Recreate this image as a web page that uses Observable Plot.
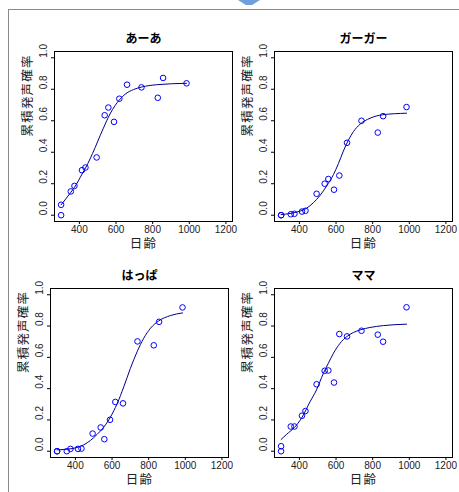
<!DOCTYPE html>
<html><head><meta charset="utf-8">
<script src="https://cdn.jsdelivr.net/npm/d3@7"></script>
<script src="https://cdn.jsdelivr.net/npm/@observablehq/plot@0.6"></script>
<style>
body{margin:0;background:#fff;}
#page{position:relative;width:459px;height:492px;overflow:hidden;background:#fff;}
.panel{position:absolute;}
#topline{position:absolute;left:8px;top:9px;width:451px;height:1px;background:#8a8a8a;}
#leftline{position:absolute;left:8px;top:9px;width:1px;height:483px;background:#8a8a8a;}
#chev{position:absolute;left:238px;top:0;width:22px;height:5px;background:#6f9fdc;clip-path:polygon(0 0,100% 0,64% 100%,36% 100%);}
</style></head><body>
<div id="page"><div id="topline"></div><div id="leftline"></div><div id="chev"></div></div>
<script>
// shared x values (日齢)
const ages = [300, 300, 353, 373, 414, 433, 494, 538, 558, 589, 618, 660, 739, 828, 857, 985];
// observed rates per panel
const aaRate    = [0.000, 0.066, 0.151, 0.186, 0.286, 0.303, 0.367, 0.635, 0.684, 0.593, 0.740, 0.829, 0.812, 0.746, 0.872, 0.838];
const gagaRate  = [0.000, 0.000, 0.006, 0.009, 0.023, 0.028, 0.136, 0.200, 0.230, 0.162, 0.252, 0.460, 0.600, 0.525, 0.629, 0.687];
const happaRate = [0.000, 0.000, 0.000, 0.015, 0.015, 0.017, 0.113, 0.152, 0.077, 0.201, 0.315, 0.306, 0.702, 0.677, 0.827, 0.919];
const mamaRate  = [0.000, 0.032, 0.158, 0.158, 0.227, 0.257, 0.428, 0.514, 0.516, 0.439, 0.749, 0.734, 0.770, 0.745, 0.700, 0.920];
// fitted curves
const aaCurveX = [300, 353, 373, 415, 433, 458, 486, 513, 531, 549, 567, 595, 618, 649, 695, 739, 822, 985];
const aaCurveY = [0.066, 0.145, 0.177, 0.262, 0.299, 0.357, 0.430, 0.505, 0.553, 0.600, 0.643, 0.697, 0.732, 0.768, 0.798, 0.814, 0.829, 0.838];
const gagaCurveX = [300, 349, 404, 440, 476, 513, 549, 586, 613, 640, 668, 695, 731, 786, 853, 985];
const gagaCurveY = [0.004, 0.011, 0.026, 0.045, 0.079, 0.126, 0.186, 0.258, 0.328, 0.407, 0.478, 0.531, 0.578, 0.616, 0.638, 0.648];
const happaCurveX = [300, 354, 409, 446, 482, 518, 555, 591, 628, 664, 700, 737, 773, 810, 855, 919, 985];
const happaCurveY = [0.009, 0.013, 0.024, 0.041, 0.069, 0.107, 0.154, 0.218, 0.304, 0.411, 0.529, 0.636, 0.722, 0.786, 0.833, 0.867, 0.884];
const mamaCurveX = [300, 331, 371, 413, 458, 493, 531, 558, 586, 622, 659, 695, 733, 786, 859, 985];
const mamaCurveY = [0.075, 0.109, 0.150, 0.214, 0.316, 0.391, 0.498, 0.562, 0.626, 0.690, 0.733, 0.759, 0.776, 0.791, 0.803, 0.812];
// titles, labels and ticks
const titles = ["あーあ", "ガーガー", "はっぱ", "ママ"];
const xLabel = "日齢";
const yLabel = "累積発声確率";
const xTicks = [400, 600, 800, 1000, 1200];
const yTicks = [0, 0.2, 0.4, 0.6, 0.8, 1.0];
const yTickLabels = ["0.0", "0.2", "0.4", "0.6", "0.8", "1.0"];

const cjk = "'Noto Sans CJK JP', sans-serif";
const rates = [aaRate, gagaRate, happaRate, mamaRate];
const curvesX = [aaCurveX, gagaCurveX, happaCurveX, mamaCurveX];
const curvesY = [aaCurveY, gagaCurveY, happaCurveY, mamaCurveY];
const layout = [
  {left:0,   top:20,  width:236, height:232, ml:54, mr:4, mt:31, mb:31},
  {left:236, top:20,  width:223, height:232, ml:38, mr:7, mt:31, mb:31},
  {left:0,   top:255, width:234, height:237, ml:50, mr:6, mt:33, mb:35},
  {left:236, top:255, width:223, height:237, ml:38, mr:7, mt:33, mb:35}
];

const page = document.getElementById("page");
titles.forEach((title, k) => {
  const L = layout[k];
  const pts = ages.map((a, i) => ({age: a, rate: rates[k][i]}));
  const curve = curvesX[k].map((a, i) => ({age: a, rate: curvesY[k][i]}));
  const svg = Plot.plot({
    width: L.width, height: L.height,
    marginLeft: L.ml, marginRight: L.mr, marginTop: L.mt, marginBottom: L.mb,
    style: {fontFamily: "'Liberation Sans', Arial, sans-serif", background: "transparent", color: "#000", overflow: "visible"},
    x: {domain: [264, 1236]},
    y: {domain: [-0.04, 1.04]},
    marks: [
      Plot.frame({stroke: "#000", strokeWidth: 1}),
      Plot.axisX({ticks: xTicks, tickSize: 3, tickPadding: 1.5, fontSize: 10, label: null, tickFormat: d => String(d), fill: "#222"}),
      Plot.axisY({ticks: yTicks, tickSize: 3, tickFormat: () => "", label: null}),
      Plot.text(yTicks, {y: d => d, text: (d, i) => yTickLabels[i], frameAnchor: "left", dx: -11, rotate: -90, lineAnchor: "middle", fontSize: 10, fill: "#222"}),
      Plot.line(curve, {x: "age", y: "rate", stroke: "#00008b", strokeWidth: 1, curve: "monotone-x"}),
      Plot.dot(pts, {x: "age", y: "rate", r: 2.8, stroke: "#0000ff", fill: "none", strokeWidth: 1}),
      Plot.text([title], {text: d => d, frameAnchor: "top", dy: -12, lineAnchor: "middle", fontSize: 12, fontWeight: "bold", fontFamily: cjk, fill: "#000"}),
      Plot.text([xLabel], {text: d => d, frameAnchor: "bottom", dy: 22, lineAnchor: "middle", fontSize: 12.5, fontFamily: cjk, fill: "#222"}),
      Plot.text([yLabel], {text: d => d, frameAnchor: "left", dx: -27, rotate: -90, lineAnchor: "middle", fontSize: 12.5, fontFamily: cjk, fill: "#222"})
    ]
  });
  d3.select(svg).selectAll("text").filter(function() { return this.textContent === yLabel || this.textContent === xLabel; })
    .attr("letter-spacing", "1.2");
  const div = document.createElement("div");
  div.className = "panel";
  div.style.left = L.left + "px";
  div.style.top = L.top + "px";
  div.appendChild(svg);
  page.appendChild(div);
});
</script>
</body></html>
